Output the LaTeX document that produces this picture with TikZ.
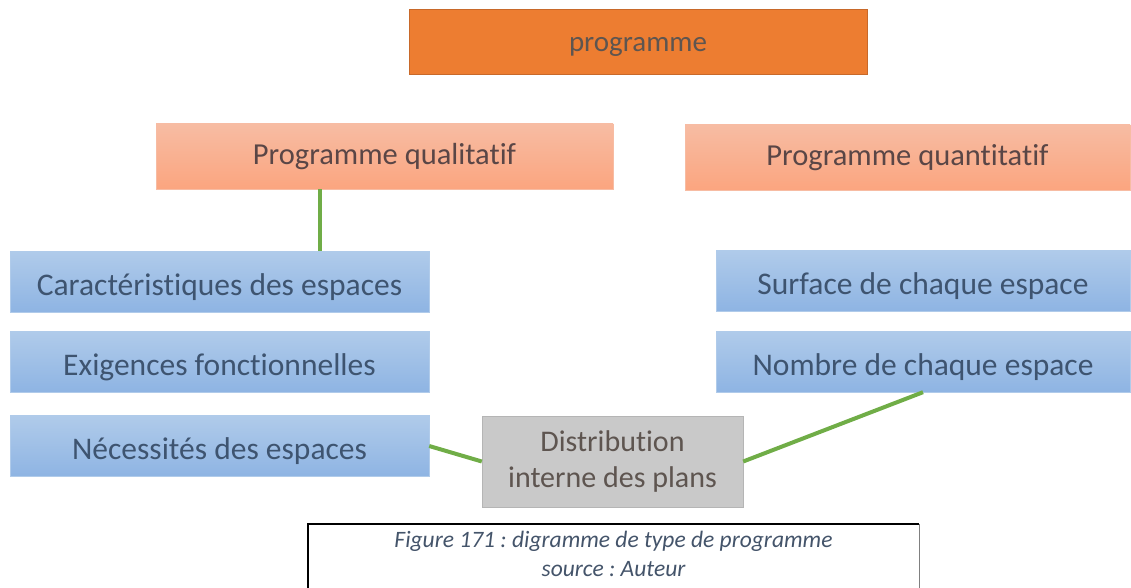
\documentclass[tikz,border=0pt]{standalone}
\usepackage{fontspec}
\setmainfont{Carlito}[Ligatures=NoCommon]
\usetikzlibrary{calc}
\definecolor{orangeF}{HTML}{ED7D31}
\definecolor{orangeD}{HTML}{C8692A}
\definecolor{salmonT}{HTML}{F7BCA3}
\definecolor{salmonB}{HTML}{FBA57F}
\definecolor{blueT}{HTML}{B0CBEA}
\definecolor{blueB}{HTML}{8EB4E3}
\definecolor{greyF}{HTML}{C9C9C9}
\definecolor{txtG}{HTML}{5E5550}
\definecolor{txtR}{HTML}{5A4646}
\definecolor{txtB}{HTML}{3E5470}
\definecolor{txtC}{HTML}{44546A}
\definecolor{lineG}{HTML}{70AD47}
\tikzset{
  x=1pt, y=-1pt,
  box/.style={rectangle, inner sep=0pt, align=center},
  topbox/.style={box, fill=orangeF, draw=orangeD, line width=0.8pt, minimum width=458pt, minimum height=65pt, text=txtG, font=\fontsize{29}{33}\selectfont, text height=27pt, text depth=6pt},
  sbox/.style={box, top color=salmonT, bottom color=salmonB, draw=salmonT, minimum height=65pt, text=txtR, font=\fontsize{30.5}{34}\selectfont},
  bbox/.style={box, top color=blueT, bottom color=blueB, draw=blueT, minimum height=61pt, text=txtB, font=\fontsize{31.5}{36}\selectfont, text height=33pt, text depth=6pt},
  gbox/.style={box, fill=greyF, draw=greyF!90!black, minimum width=261pt, minimum height=91pt, text=txtG, font=\fontsize{30}{36}\selectfont},
  link/.style={lineG, line width=4pt},
}
\begin{document}
\frenchspacing
\begin{tikzpicture}
\useasboundingbox (0,0) rectangle (1131,588);
\node[topbox] (prog) at (638,41.5) {programme};
\node[sbox, minimum width=457pt] (qual) at (384.5,156.5) {Programme qualitatif};
\node[sbox, minimum width=445pt] (quant) at (907.5,157.5) {Programme quantitatif};
\node[bbox, minimum width=419pt] (carac) at (219.5,281.5) {Caractéristiques des espaces};
\node[bbox, minimum width=419pt] (exig) at (219.5,361.5) {Exigences fonctionnelles};
\node[bbox, minimum width=419pt] (nec) at (219.5,446) {Nécessités des espaces};
\node[bbox, minimum width=414pt] (surf) at (923,280.5) {Surface de chaque espace};
\node[bbox, minimum width=414pt] (nomb) at (923,361.5) {Nombre de chaque espace};
\node[gbox] (dist) at (612.5,461.5) {Distribution\\interne des plans};
\coordinate (c1) at (320,0);
\draw[link] (qual.south -| c1) -- (carac.north -| c1);
\draw[link] (nec.east) -- (dist.west);
\draw[link] (nomb.south) -- (dist.east);
\draw[black, line width=1.6pt] (308,592) -- (308,524) -- (919,524);
\draw[gray, line width=0.8pt] (919,524) -- (919,592);
\node[box, text=txtC, font=\fontsize{23.5}{29}\selectfont\itshape] (cap) at (613.5,554) {Figure 171 : digramme de type de programme\\source : Auteur};
\end{tikzpicture}
\end{document}
